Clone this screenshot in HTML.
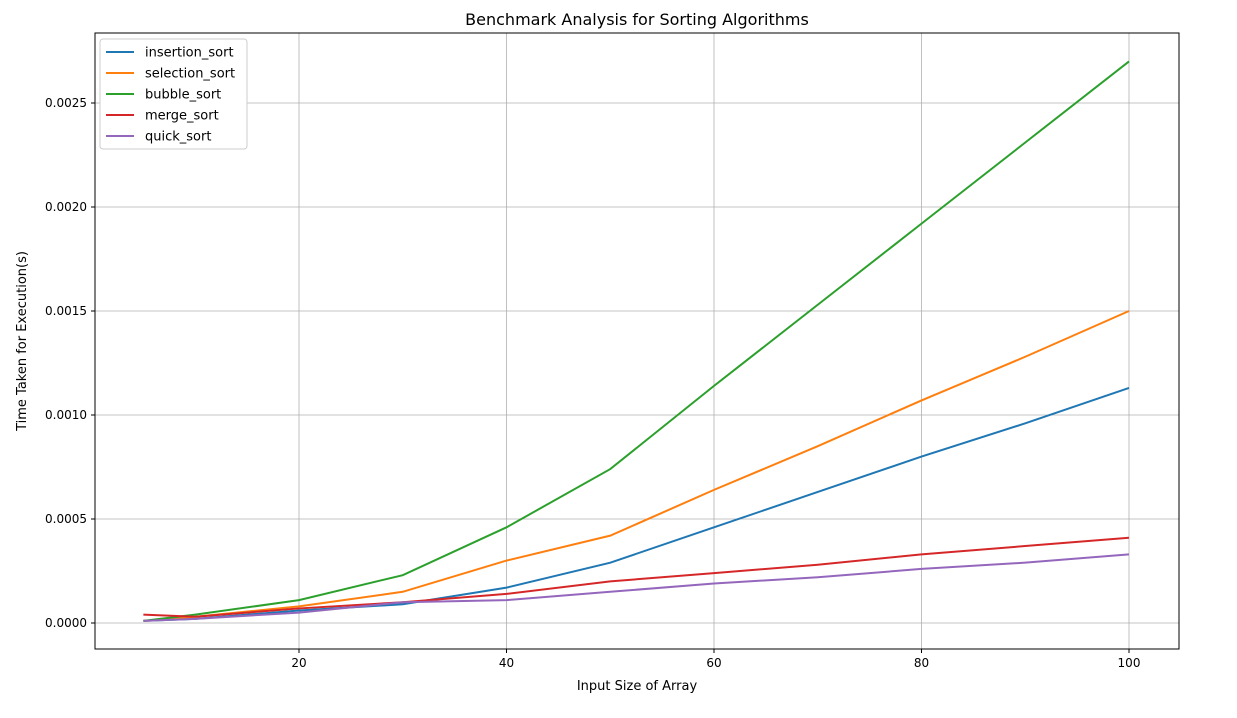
<!DOCTYPE html>
<html><head><meta charset="utf-8"><style>
body{margin:0;background:#fff;font-family:"Liberation Sans","DejaVu Sans",sans-serif;}
svg text{font-family:"DejaVu Sans","Liberation Sans",sans-serif;}
</style></head><body>
<svg id="chart" width="1237" height="713">
<rect x="0" y="0" width="1237" height="713" fill="#fff"/>
</svg>
<script>
const xValues=[5,10,20,30,40,50,60,70,80,90,100];
const seriesNames=["insertion_sort","selection_sort","bubble_sort","merge_sort","quick_sort"];
const insertionSort=[0.00001,0.00002,0.00006,0.00009,0.00017,0.00029,0.00046,0.00063,0.0008,0.00096,0.00113];
const selectionSort=[0.00001,0.00003,0.00008,0.00015,0.0003,0.00042,0.00064,0.00085,0.00107,0.00128,0.0015];
const bubbleSort=[0.00001,0.00004,0.00011,0.00023,0.00046,0.00074,0.00114,0.00153,0.00192,0.00231,0.0027];
const mergeSort=[0.00004,0.00003,0.00007,0.0001,0.00014,0.0002,0.00024,0.00028,0.00033,0.00037,0.00041];
const quickSort=[0.00001,0.00002,0.00005,0.0001,0.00011,0.00015,0.00019,0.00022,0.00026,0.00029,0.00033];
const xTicks=[20,40,60,80,100];
const yTicks=[0,0.0005,0.001,0.0015,0.002,0.0025];
const yTickLabels=["0.0000","0.0005","0.0010","0.0015","0.0020","0.0025"];
const colors=["#1f77b4","#ff7f0e","#2ca02c","#d62728","#9467bd"];
const allSeries=[insertionSort,selectionSort,bubbleSort,mergeSort,quickSort];
const L=95,R=1179,T=33,B=649;
const sx=v=>299+(v-20)*(1129-299)/80;
const sy=v=>623-v*208000;
const svg=document.getElementById('chart');
const NS="http://www.w3.org/2000/svg";
function mk(tag,attrs,txt){const e=document.createElementNS(NS,tag);for(const k in attrs)e.setAttribute(k,attrs[k]);if(txt!==undefined)e.textContent=txt;svg.appendChild(e);return e;}
// grid
xTicks.forEach((t,i)=>{
 const g=mk('line',{x1:sx(t),x2:sx(t),y1:T,y2:B,stroke:'#b0b0b0','stroke-width':0.8});
 
 
 mk('line',{x1:sx(t),x2:sx(t),y1:B,y2:B+4,stroke:'#000'});
 const tl=mk('text',{x:sx(t),y:B+18,'font-size':12,'text-anchor':'middle'},t);
 
 
});
yTicks.forEach((t,i)=>{
 const g=mk('line',{x1:L,x2:R,y1:sy(t),y2:sy(t),stroke:'#b0b0b0','stroke-width':0.8});
 
 
 mk('line',{x1:L-4,x2:L,y1:sy(t),y2:sy(t),stroke:'#000'});
 const tl=mk('text',{x:L-8,y:sy(t)+4,'font-size':12,'text-anchor':'end'},yTickLabels[i]);
 
 
});
allSeries.forEach((s,i)=>{
 const p=mk('polyline',{points:s.map((v,j)=>sx(xValues[j])+','+sy(v)).join(' '),fill:'none',stroke:colors[i],'stroke-width':2});
 
 
});
const fr=mk('rect',{x:L,y:T,width:R-L,height:B-T,fill:'none',stroke:'#000','stroke-width':1});


const title=mk('text',{x:(L+R)/2,y:25,'font-size':16,'text-anchor':'middle'},'Benchmark Analysis for Sorting Algorithms');


const xt=mk('text',{x:(L+R)/2,y:690,'font-size':13,'text-anchor':'middle'},'Input Size of Array');


const yt=mk('text',{x:26,y:341,'font-size':13,'text-anchor':'middle',transform:'rotate(-90 26 341)'},'Time Taken for Execution(s)');


const lg=mk('rect',{x:100,y:39,width:147,height:110,fill:'#fff',stroke:'#ccc',rx:3});


seriesNames.forEach((n,i)=>{
 const y=52+i*21;
 mk('line',{x1:106,x2:134,y1:y,y2:y,stroke:colors[i],'stroke-width':2});
 const t=mk('text',{x:145,y:y+4.5,'font-size':13},n);
 
 
});
</script>
</body></html>
